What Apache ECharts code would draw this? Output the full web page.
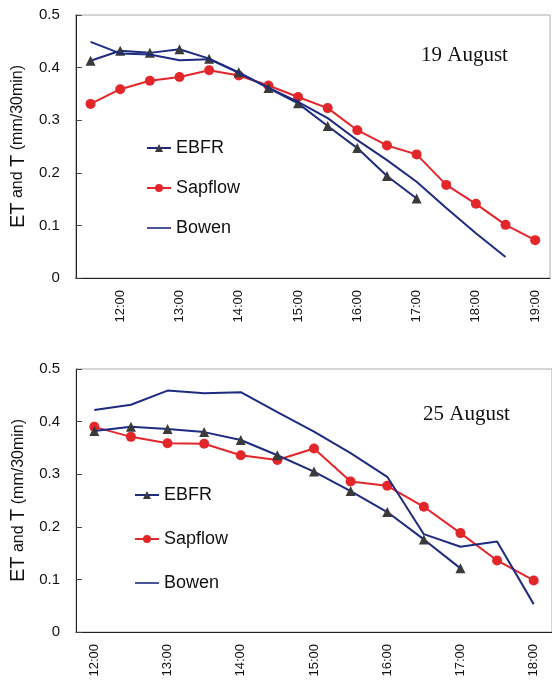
<!DOCTYPE html>
<html><head><meta charset="utf-8">
<script src="https://cdn.jsdelivr.net/npm/echarts@6/dist/echarts.min.js"></script>
<style>html,body{margin:0;padding:0;background:#fff}#c{width:552px;height:688px}</style>
</head><body><div id="c"></div>
<script>
// ---- data ----
const timesTop = ['11:30','12:00','12:30','13:00','13:30','14:00','14:30','15:00','15:30','16:00','16:30','17:00','17:30','18:00','18:30','19:00'];
const ebfrTop    = [0.413,0.432,0.428,0.435,0.417,0.391,0.361,0.332,0.289,0.247,0.194,0.151,null,null,null,null];
const sapflowTop = [0.331,0.359,0.375,0.382,0.395,0.385,0.366,0.344,0.323,0.281,0.252,0.235,0.177,0.141,0.101,0.072];
const bowenTop   = [0.449,0.427,0.425,0.414,0.416,0.390,0.362,0.335,0.304,0.262,0.224,0.183,0.133,0.085,0.040,null];

const timesBottom = ['12:00','12:30','13:00','13:30','14:00','14:30','15:00','15:30','16:00','16:30','17:00','17:30','18:00'];
const ebfrBottom    = [0.382,0.390,0.386,0.380,0.365,0.336,0.305,0.268,0.228,0.176,0.121,null,null];
const sapflowBottom = [0.390,0.371,0.359,0.358,0.336,0.327,0.349,0.286,0.278,0.238,0.188,0.136,0.098];
const bowenBottom   = [0.422,0.432,0.459,0.454,0.456,0.418,0.381,0.340,0.295,0.186,0.162,0.172,0.053];

const yTicks = {min:0, max:0.5, interval:0.1};
const titles = ['19 August','25 August'];
const seriesNames = ['EBFR','Sapflow','Bowen'];

// ---- styles ----
const BLUE = '#1d2b80', RED = '#e2262a', GRAY = '#3a3a3a';
const sans = '"Liberation Sans", Arial, sans-serif';
const serif = '"Liberation Serif", "Times New Roman", serif';

function xAxis(idx, cats){
  return {
    type:'category', gridIndex:idx, data:cats, boundaryGap:true,
    axisLine:{lineStyle:{color:'#222',width:1}},
    axisTick:{inside:true, length:5, interval:0, lineStyle:{color:'#444'}},
    axisLabel:{rotate:90, margin:12, color:'#111', fontFamily:sans, fontSize:13,
      interval:(i,v)=>v.endsWith(':00')},
    splitLine:{show:false}
  };
}
function yAxis(idx){
  return {
    type:'value', gridIndex:idx, min:yTicks.min, max:yTicks.max, interval:yTicks.interval,
    axisLine:{show:true, lineStyle:{color:'#222',width:1}},
    axisTick:{show:true, inside:true, length:6, lineStyle:{color:'#444'}},
    axisLabel:{margin:16, color:'#111', fontFamily:sans, fontSize:15,
      formatter:v=> v===0 ? '0' : v.toFixed(1)},
    splitLine:{show:false},
    name:'{a|ET}{b| and }{a|T}{b| (mm/30min)}',
    nameLocation:'middle', nameGap:47, nameRotate:90,
    nameTextStyle:{rich:{a:{fontFamily:sans,fontSize:20,color:'#111'},b:{fontFamily:sans,fontSize:16,color:'#111'}}}
  };
}
function mk(idx, e, s, b){
  return [
    {name:seriesNames[0], type:'line', xAxisIndex:idx, yAxisIndex:idx, data:e,
     symbol:'triangle', symbolSize:10, lineStyle:{color:BLUE,width:2}, itemStyle:{color:GRAY},
     connectNulls:false, z:3},
    {name:seriesNames[1], type:'line', xAxisIndex:idx, yAxisIndex:idx, data:s,
     symbol:'circle', symbolSize:10, lineStyle:{color:RED,width:2}, itemStyle:{color:RED}, z:2},
    {name:seriesNames[2], type:'line', xAxisIndex:idx, yAxisIndex:idx, data:b,
     symbol:'none', lineStyle:{color:BLUE,width:2}, itemStyle:{color:BLUE}, z:4}
  ];
}
const legendData = [
  {name:seriesNames[0]},
  {name:seriesNames[1]},
  {name:seriesNames[2], icon:'path://M0,9 L30,9 L30,11 L0,11 Z'}
];
const legendBase = {orient:'vertical', itemWidth:24, itemHeight:10, itemGap:22,
  textStyle:{fontFamily:sans, fontSize:18, color:'#111'}, selectedMode:false};

const chart = echarts.init(document.getElementById('c'), null, {renderer:'canvas'});
chart.setOption({
  animation:false,
  backgroundColor:'#fff',
  title:[
    {text:titles[0], left:416, top:40, textStyle:{fontFamily:serif, fontSize:21, fontWeight:'normal', color:'#111'}},
    {text:titles[1], left:418, top:399, textStyle:{fontFamily:serif, fontSize:21, fontWeight:'normal', color:'#111'}}
  ],
  legend:[
    Object.assign({}, legendBase, {data:legendData, left:141, top:134}),
    Object.assign({}, legendBase, {data:legendData, left:129, top:481, itemGap:26})
  ],
  grid:[
    {left:73, top:15, width:477, height:263, show:true, borderColor:'#aaa', borderWidth:1},
    {left:76, top:369, width:476, height:263, show:true, borderColor:'#aaa', borderWidth:1}
  ],
  xAxis:[xAxis(0,timesTop), xAxis(1,timesBottom)],
  yAxis:[yAxis(0), yAxis(1)],
  series:[...mk(0,ebfrTop,sapflowTop,bowenTop), ...mk(1,ebfrBottom,sapflowBottom,bowenBottom)]
});
</script></body></html>
